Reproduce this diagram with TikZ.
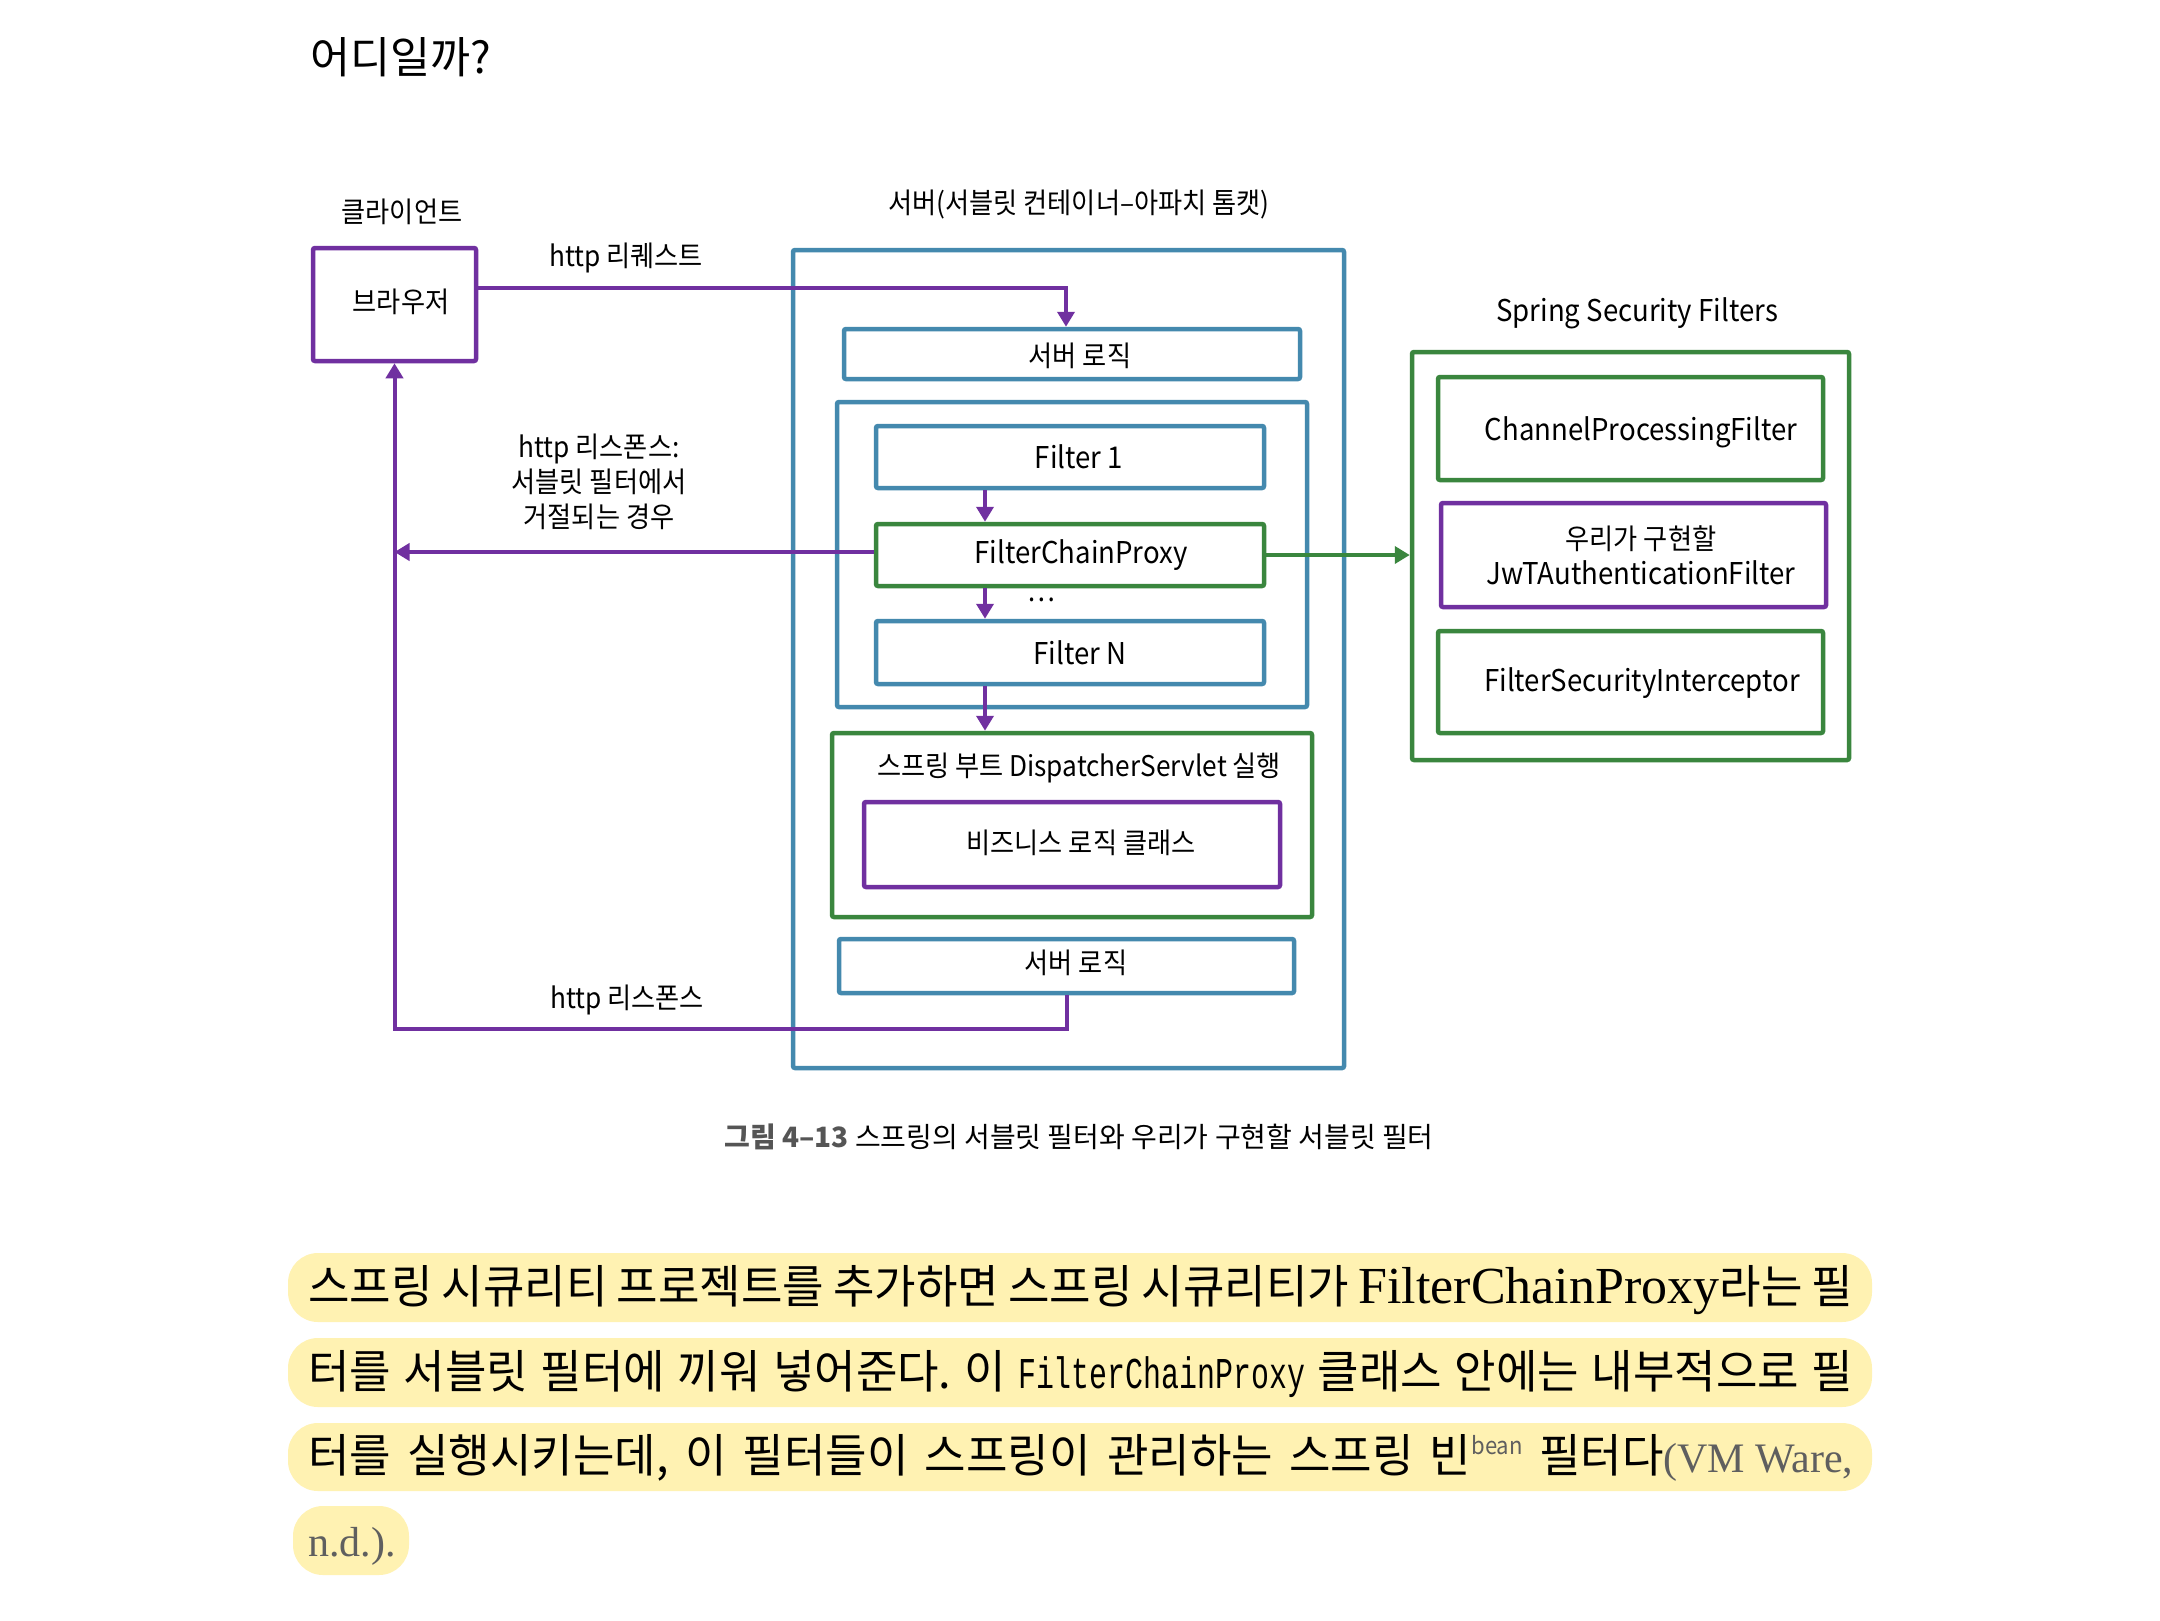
\documentclass[tikz,border=0pt]{standalone}
\usepackage{fontspec}
\setmainfont{Noto Sans CJK KR}
\newfontfamily\dg[FakeStretch=0.92]{Noto Sans CJK KR}
\newfontfamily\bd[FakeStretch=0.98]{Noto Sans CJK KR}
\newfontfamily\bdserif{Liberation Serif}
\newfontfamily\bdmono[FakeStretch=0.68]{Liberation Mono}
\usetikzlibrary{arrows.meta}
\definecolor{cblue}{RGB}{68,137,174}
\definecolor{cgreen}{RGB}{58,134,62}
\definecolor{cpurple}{RGB}{112,48,160}
\definecolor{hl}{RGB}{255,242,178}
\definecolor{capgray}{RGB}{85,85,85}
\definecolor{citegray}{RGB}{95,95,95}
\frenchspacing
\begin{document}
\begin{tikzpicture}[x=1pt,y=-1pt,
  bx/.style={draw, line width=4.5pt, rounded corners=2pt, inner sep=0pt},
  bluebox/.style={bx, draw=cblue},
  greenbox/.style={bx, draw=cgreen},
  purplebox/.style={bx, draw=cpurple},
  lbl/.style={inner sep=0pt, align=center, font=\dg\fontsize{28.5}{35}\selectfont},
  lat/.style={inner sep=0pt, align=center, font=\dg\fontsize{30}{35}\selectfont},
  conn/.style={line width=4pt, draw=cpurple},
  tip/.style={-{Triangle[width=17pt,length=15pt]}},
  bodyline/.style={anchor=base west, inner sep=0pt, font=\bd\fontsize{46}{46}\selectfont}
]
\fill[white] (0,0) rectangle (2160,1620);
\useasboundingbox (0,0) rectangle (2160,1620);

% title
\node[anchor=west, inner sep=0pt, font=\fontsize{43.5}{43.5}\selectfont] (title) at (310,57) {어디일까?};

% boxes
\node[purplebox, minimum width=163pt, minimum height=113pt] (browser) at (394.5,304.5) {};
\node[bluebox, minimum width=551pt, minimum height=818pt] (server) at (1068.5,659) {};
\node[bluebox, minimum width=456pt, minimum height=50pt] (logic1) at (1072,354) {};
\node[bluebox, minimum width=470pt, minimum height=305pt] (fcont) at (1072,554.5) {};
\node[bluebox, minimum width=388pt, minimum height=62pt] (f1) at (1070,457) {};
\node[greenbox, minimum width=388pt, minimum height=62pt] (fcp) at (1070,555) {};
\node[bluebox, minimum width=388pt, minimum height=63pt] (fN) at (1070,652.5) {};
\node[greenbox, minimum width=480pt, minimum height=184pt] (disp) at (1072,825) {};
\node[purplebox, minimum width=416pt, minimum height=85pt] (biz) at (1072,844.5) {};
\node[bluebox, minimum width=455pt, minimum height=54pt] (logic2) at (1066.5,966) {};
\node[greenbox, minimum width=437pt, minimum height=408pt] (spring) at (1630.5,556) {};
\node[greenbox, minimum width=385pt, minimum height=103pt] (cpf) at (1630.5,428.5) {};
\node[purplebox, minimum width=385pt, minimum height=104pt] (jwt) at (1633.5,555) {};
\node[greenbox, minimum width=385pt, minimum height=102pt] (fsi) at (1630.5,682) {};

% texts
\node[lbl] (tclient) at (402,212) {클라이언트};
\node[lbl] (tbrowser) at (401,302) {브라우저};
\node[lbl] (treq) at (626,258) {http 리퀘스트};
\node[lbl] (tserver) at (1079,205) {서버(서블릿 컨테이너–아파치 톰캣)};
\node[lbl] (tlogic1) at (1080,356) {서버 로직};
\node[lat] (tf1) at (1079,457) {Filter 1};
\node[lat] (tfcp) at (1081,555) {FilterChainProxy};
\node[lbl] (tdots) at (1041,600) {…};
\node[lat] (tfN) at (1080,653) {Filter N};
\node[lbl] (tdisp) at (1079,768) {스프링 부트 DispatcherServlet 실행};
\node[lbl] (tbiz) at (1081,843) {비즈니스 로직 클래스};
\node[lbl] (tlogic2) at (1076,963) {서버 로직};
\node[lbl] (trej) at (599,482) {http 리스폰스:\\서블릿 필터에서\\거절되는 경우};
\node[lbl] (tresp) at (627,1000) {http 리스폰스};
\node[lat] (tspring) at (1637,313) {Spring Security Filters};
\node[lat] (tcpf) at (1641,432) {ChannelProcessingFilter};
\node[lbl] (tjwt) at (1641,555) {우리가 구현할\\{\fontsize{30}{35}\selectfont JwTAuthenticationFilter}};
\node[lat] (tfsi) at (1642,683) {FilterSecurityInterceptor};

% connectors
\draw[conn, tip] ([yshift=16.5pt]browser.east) -| ([xshift=-6pt]logic1.north);
\draw[conn, tip] ([xshift=-85pt]f1.south) -- ([xshift=-85pt]fcp.north);
\draw[conn, tip] ([xshift=-85pt]fcp.south) -- ([xshift=-85pt]fN.north);
\draw[conn, tip] ([xshift=-85pt]fN.south) -- ([xshift=-85pt]fN.south |- disp.north);
\draw[conn, tip] ([yshift=3pt]fcp.west) -- ([yshift=3pt]fcp.west -| browser.south);
\draw[line width=4pt, draw=cgreen, tip] (fcp.east) -- (fcp.east -| spring.west);
\coordinate (respcorner) at (394.5,1029);
\draw[conn, tip] (logic2.south) |- (respcorner) -- (browser.south);

% caption
\node[inner sep=0pt, font=\fontsize{28}{28}\selectfont] (caption) at (1079,1137) {{\color{capgray}\bfseries 그림 4–13} 스프링의 서블릿 필터와 우리가 구현할 서블릿 필터};

% highlighted paragraph
\fill[hl, rounded corners=30pt] (288,1253) rectangle (1872,1322);
\fill[hl, rounded corners=30pt] (288,1338) rectangle (1872,1407);
\fill[hl, rounded corners=30pt] (288,1423) rectangle (1872,1491);
\fill[hl, rounded corners=30pt] (293,1506) rectangle (409,1575);

\node[bodyline] (p1) at (308,1303) {\makebox[1545pt][s]{스프링 시큐리티 프로젝트를 추가하면 스프링 시큐리티가 {\bdserif\fontsize{52}{52}\selectfont FilterChainProxy}라는 필}};
\node[bodyline] (p2) at (308,1388) {\makebox[1545pt][s]{터를 서블릿 필터에 끼워 넣어준다. 이 {\bdmono\fontsize{44}{44}\selectfont FilterChainProxy} 클래스 안에는 내부적으로 필}};
\node[bodyline] (p3) at (308,1472) {\makebox[1545pt][s]{터를 실행시키는데, 이 필터들이 스프링이 관리하는 스프링 빈\raisebox{18pt}{\dg\fontsize{24}{24}\selectfont\color{citegray}bean} 필터다{\bdserif\fontsize{42}{42}\selectfont\color{citegray}(VM\hspace{10pt}Ware,}}};
\node[bodyline] (p4) at (308,1556) {{\bdserif\fontsize{42}{42}\selectfont\color{citegray}n.d.).}};
\end{tikzpicture}
\end{document}
